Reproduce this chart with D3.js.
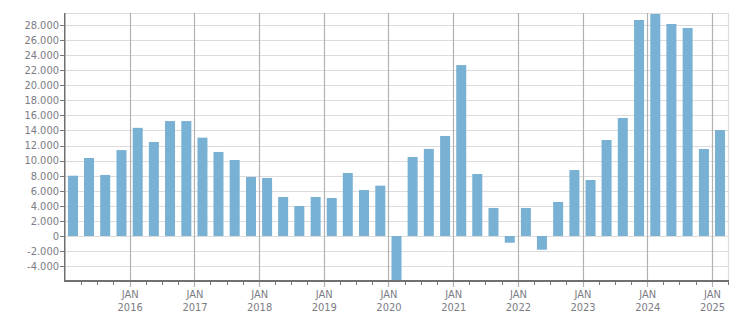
<!DOCTYPE html>
<html>
<head>
<meta charset="utf-8">
<script src="https://cdn.jsdelivr.net/npm/d3@7"></script>
<style>
  body { margin: 0; background: #fff; }
  svg text { font-family: "DejaVu Sans Condensed", "Liberation Sans", sans-serif; font-size: 11px; fill: #7c7c84; }
</style>
</head>
<body>
<svg width="751" height="313"></svg>
<script>
// quarterly change, Q1 2015 .. Q1 2025
const quarters = [
  "2015-Q1","2015-Q2","2015-Q3","2015-Q4",
  "2016-Q1","2016-Q2","2016-Q3","2016-Q4",
  "2017-Q1","2017-Q2","2017-Q3","2017-Q4",
  "2018-Q1","2018-Q2","2018-Q3","2018-Q4",
  "2019-Q1","2019-Q2","2019-Q3","2019-Q4",
  "2020-Q1","2020-Q2","2020-Q3","2020-Q4",
  "2021-Q1","2021-Q2","2021-Q3","2021-Q4",
  "2022-Q1","2022-Q2","2022-Q3","2022-Q4",
  "2023-Q1","2023-Q2","2023-Q3","2023-Q4",
  "2024-Q1","2024-Q2","2024-Q3","2024-Q4",
  "2025-Q1"
];
const values = [
  8000, 10350, 8100, 11400,
  14350, 12480, 15250, 15250,
  13050, 11150, 10080, 7830,
  7700, 5180, 3980, 5180,
  5040, 8360, 6100, 6680,
  -6500, 10480, 11550, 13270,
  22680, 8230, 3720, -890,
  3720, -1820, 4510, 8750,
  7430, 12740, 15660, 28660,
  29460, 28130, 27600, 11550,
  14060
];
const yTicks = d3.range(-4000, 28001, 2000);
const yearLabels = ["2016","2017","2018","2019","2020","2021","2022","2023","2024","2025"];

(function (d3) {
  const svg = d3.select('svg');
  const left = 65, right = 728, plotTop = 13, bottom = 281;

  function qStart(q) {
    const yr = +q.slice(0, 4), n = +q.slice(6);
    return new Date(yr, (n - 1) * 3, 1);
  }
  const data = quarters.map((q, i) => ({ q: q, v: values[i], start: qStart(q), end: d3.timeMonth.offset(qStart(q), 3) }));

  const x = d3.scaleTime()
    .domain([new Date(2015, 0, 1), new Date(2025, 3, 1)])
    .range([left, right]);
  const y = d3.scaleLinear()
    .domain([-5840, 29590])
    .range([bottom - 1, plotTop]);

  const loc = d3.formatLocale({ decimal: ",", thousands: ".", grouping: [3], currency: ["", ""], minus: "-" });
  const fmt = loc.format(",d");

  svg.append('defs').append('clipPath').attr('id', 'plot')
    .append('rect').attr('x', left).attr('y', plotTop).attr('width', right - left).attr('height', bottom - plotTop - 1);

  // horizontal grid
  svg.append('g').selectAll('line')
    .data(yTicks).enter().append('line')
    .attr('x1', left).attr('x2', right)
    .attr('y1', d => Math.round(y(d)) + 0.5).attr('y2', d => Math.round(y(d)) + 0.5)
    .attr('stroke', '#dcdcdc').attr('stroke-width', 1.2);

  // frame top / right
  svg.append('line').attr('x1', left).attr('x2', right).attr('y1', plotTop + 0.5).attr('y2', plotTop + 0.5)
    .attr('stroke', '#dcdcdc').attr('stroke-width', 1.2);
  svg.append('line').attr('x1', right + 0.5).attr('x2', right + 0.5).attr('y1', plotTop).attr('y2', bottom)
    .attr('stroke', '#dcdcdc').attr('stroke-width', 1.2);

  // year lines
  const years = yearLabels.map(s => new Date(+s, 0, 1));
  svg.append('g').selectAll('line')
    .data(years).enter().append('line')
    .attr('x1', d => Math.round(x(d)) + 0.5).attr('x2', d => Math.round(x(d)) + 0.5)
    .attr('y1', plotTop).attr('y2', bottom + 6)
    .attr('stroke', '#b2b2b2').attr('stroke-width', 1.2);

  // bars
  svg.append('g').attr('clip-path', 'url(#plot)')
    .selectAll('rect')
    .data(data).enter().append('rect')
    .attr('x', d => (x(d.start) + x(d.end)) / 2 - 5)
    .attr('width', 10)
    .attr('y', d => y(Math.max(0, d.v)))
    .attr('height', d => Math.abs(y(d.v) - y(0)))
    .attr('fill', '#78b1d3');

  // minor ticks at quarter starts
  const qTicks = data.map(d => d.start).filter(d => d.getMonth() !== 0).concat([new Date(2025, 3, 1)]);
  svg.append('g').selectAll('line')
    .data(qTicks).enter().append('line')
    .attr('x1', d => Math.round(x(d)) + 0.5).attr('x2', d => Math.round(x(d)) + 0.5)
    .attr('y1', bottom).attr('y2', bottom + 4)
    .attr('stroke', '#777').attr('stroke-width', 1);

  // axes lines
  svg.append('line').attr('x1', left - 0.25).attr('x2', left - 0.25).attr('y1', plotTop).attr('y2', bottom + 1)
    .attr('stroke', '#707070').attr('stroke-width', 1.5);
  svg.append('line').attr('x1', left - 1).attr('x2', right + 1).attr('y1', bottom).attr('y2', bottom)
    .attr('stroke', '#707070').attr('stroke-width', 2);

  // y axis ticks + labels
  const yAxis = svg.append('g');
  yAxis.selectAll('line')
    .data(yTicks).enter().append('line')
    .attr('x1', left - 5).attr('x2', left)
    .attr('y1', d => Math.round(y(d)) + 0.5).attr('y2', d => Math.round(y(d)) + 0.5)
    .attr('stroke', '#777');
  yAxis.selectAll('text')
    .data(yTicks).enter().append('text')
    .attr('x', left - 6).attr('y', d => y(d))
    .attr('dy', '0.35em').attr('text-anchor', 'end')
    .text(d => fmt(d));

  // x labels
  const xl = svg.append('g').selectAll('text')
    .data(years).enter().append('text')
    .attr('x', d => x(d) + 0.5).attr('y', 298)
    .attr('text-anchor', 'middle');
  xl.append('tspan').attr('x', d => x(d) + 0.5).text('JAN');
  xl.append('tspan').attr('x', d => x(d) + 0.5).attr('dy', 13).text((d, i) => yearLabels[i]);
}(d3));
</script>
</body>
</html>
